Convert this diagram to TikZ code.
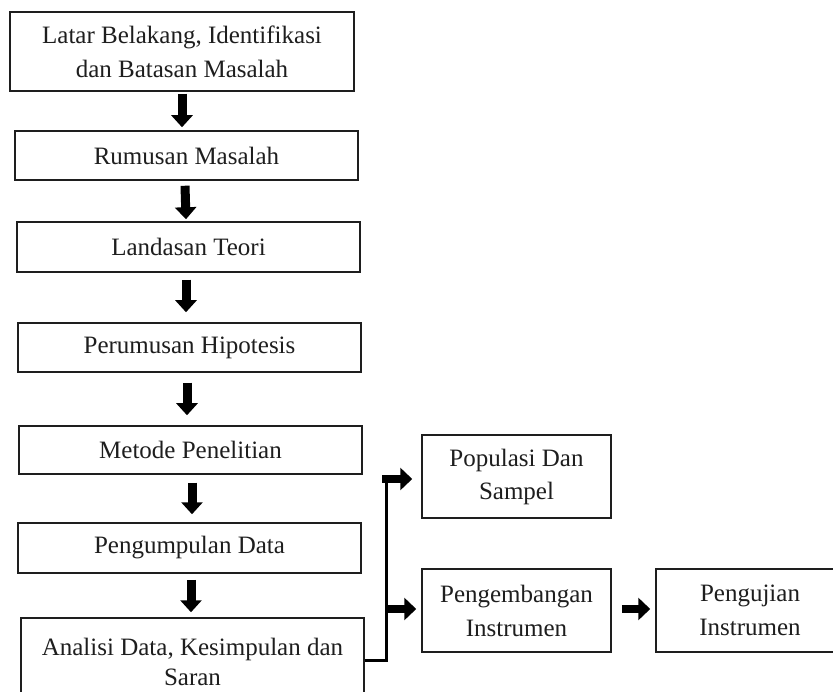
\documentclass[tikz,border=0pt]{standalone}
\usepackage{fontspec}
\setmainfont{Liberation Serif}
\usetikzlibrary{arrows.meta,calc}
\definecolor{ink}{HTML}{1E1E1E}
\tikzset{
  box/.style={draw=ink, line width=1.5pt, fill=white, inner sep=0pt, align=center,
    text=ink, font=\fontsize{25}{34}\selectfont},
  barrow/.style={draw=black, line width=9pt, -{Triangle[width=21pt,length=12pt]}},
  harrow/.style={draw=black, line width=8pt, -{Triangle[width=22pt,length=12pt]}},
  conn/.style={draw=black, line width=3pt}
}
\begin{document}
\begin{tikzpicture}[x=1pt,y=-1pt]
\useasboundingbox (0,0) rectangle (833,692);
\node[box, minimum width=344pt, minimum height=79pt] (b1) at (182,51.5) {Latar Belakang, Identifikasi\\dan Batasan Masalah};
\node[box, minimum width=343pt, minimum height=49pt] (b2) at (186.5,155.5) {Rumusan Masalah};
\node[box, minimum width=343pt, minimum height=50pt] (b3) at (188.5,247) {Landasan Teori};
\node[box, minimum width=343pt, minimum height=49pt] (b4) at (189.5,347.5) {Perumusan Hipotesis};
\node[box, minimum width=343pt, minimum height=48pt] (b5) at (190.5,450) {Metode Penelitian};
\node[box, minimum width=343pt, minimum height=50pt] (b6) at (189.5,548) {Pengumpulan Data};
\node[box, minimum width=343pt, minimum height=88pt, font=\fontsize{25}{30}\selectfont] (b7) at (192.5,662) {Analisi Data, Kesimpulan dan\\Saran};
\node[box, minimum width=189pt, minimum height=83pt, font=\fontsize{25}{33}\selectfont] (p1) at (516.5,476.5) {Populasi Dan\\Sampel};
\node[box, minimum width=189pt, minimum height=83pt] (p2) at (516.5,610.5) {Pengembangan\\Instrumen};
\node[box, minimum width=188pt, minimum height=83pt] (p3) at (750,610.5) {Pengujian\\Instrumen};
% vertical arrows
\draw[barrow] ([yshift=-2pt]b1.south) -- ([xshift=-4.5pt,yshift=3pt]b2.north);
\draw[barrow] ([xshift=-1.5pt,yshift=-5pt]b2.south) -- ([xshift=-2.5pt,yshift=2pt]b3.north);
\draw[barrow] ([xshift=-2.5pt,yshift=-7pt]b3.south) -- ([xshift=-3.5pt,yshift=10pt]b4.north);
\draw[barrow] ([xshift=-2.5pt,yshift=-10pt]b4.south) -- ([xshift=-3.5pt,yshift=10pt]b5.north);
\draw[barrow] ([xshift=1.5pt,yshift=-8pt]b5.south) -- ([xshift=2.5pt,yshift=8pt]b6.north);
\draw[barrow] ([xshift=1.5pt,yshift=-6pt]b6.south) -- ([xshift=-1.5pt,yshift=5pt]b7.north);
% branch connector
\coordinate (jt) at ([xshift=-35pt,yshift=-2.5pt]p1.west);
\draw[conn] ([yshift=2pt]b7.east) -| ([yshift=-1.5pt]jt);
\draw[harrow] ([xshift=-4pt]jt) -- ([xshift=-9pt,yshift=-2.5pt]p1.west);
\draw[harrow] ([xshift=-35pt,yshift=1.5pt]p2.west) -- ([xshift=-5pt,yshift=1.5pt]p2.west);
\draw[harrow] ([xshift=10pt,yshift=1.5pt]p2.east) -- ([xshift=-5pt,yshift=1.5pt]p3.west);
\end{tikzpicture}
\end{document}
